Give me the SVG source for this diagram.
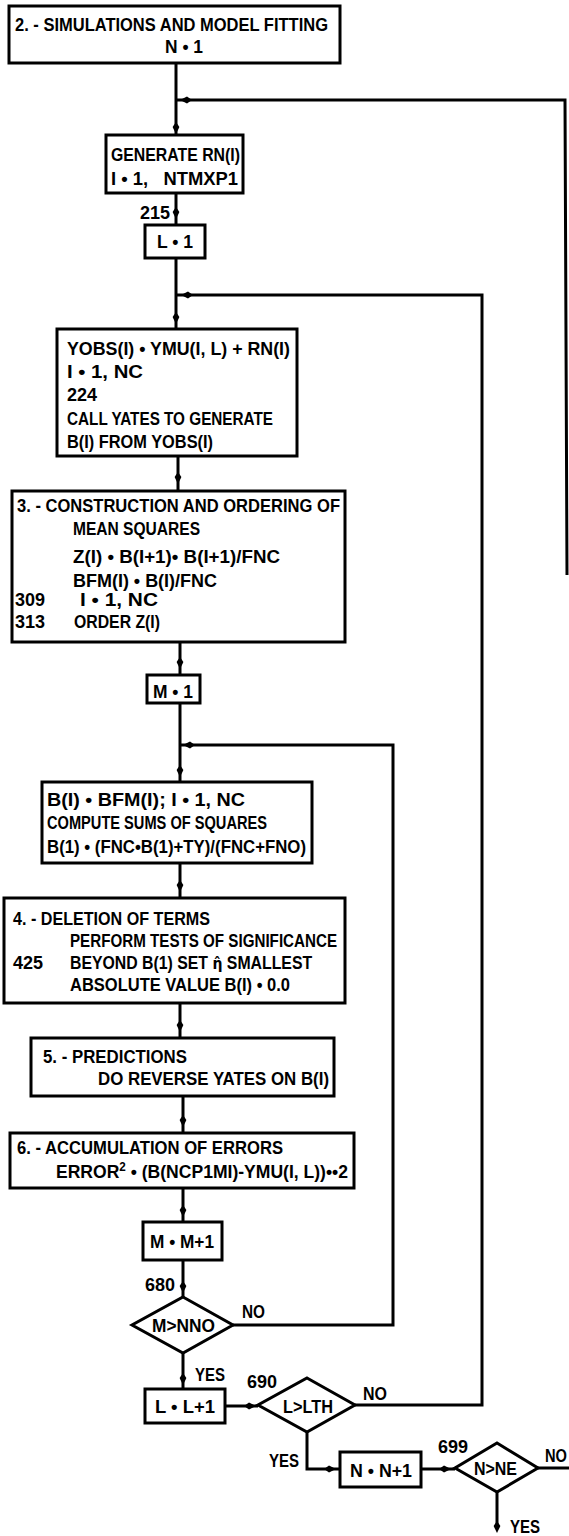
<svg xmlns="http://www.w3.org/2000/svg" width="569" height="1536" viewBox="0 0 569 1536">
<style>
.t{font-family:'Liberation Sans Narrow','Liberation Sans',Arial,sans-serif;font-weight:bold;font-size:18px;fill:#000}
.g{font-family:'DejaVu Sans',sans-serif;font-size:16px}
.b{fill:#fff;stroke:#000;stroke-width:3}
.c{fill:none;stroke:#000;stroke-width:3}
</style>
<defs>
<path id="arr" d="M-6,0 L-1,-3.4 L6,0 L-1,3.4 Z" fill="#000"/>
</defs>
<rect width="569" height="1536" fill="#fff"/>
<g id="connectors">
<path class="c" d="M176 63 V135"/>
<path class="c" d="M176 100 H565 L567 575"/>
<path class="c" d="M176 193 V225"/>
<path class="c" d="M176 258 V329"/>
<path class="c" d="M176 295 H482 V1405 H355"/>
<path class="c" d="M178 456 V491"/>
<path class="c" d="M180 642 V675"/>
<path class="c" d="M180 703 V782"/>
<path class="c" d="M180 745 H393 V1325 H233"/>
<path class="c" d="M180 863 V898"/>
<path class="c" d="M180 1003 V1038"/>
<path class="c" d="M183 1096 V1133"/>
<path class="c" d="M183 1188 V1222"/>
<path class="c" d="M183 1260 V1297"/>
<path class="c" d="M183 1353 V1389"/>
<path class="c" d="M225 1406 H258"/>
<path class="c" d="M307 1432 V1469 H340"/>
<path class="c" d="M421 1469 H455"/>
<path class="c" d="M538 1468 H569"/>
<path class="c" d="M497 1492 V1526"/>
<use href="#arr" transform="translate(176,128) rotate(90)"/>
<use href="#arr" transform="translate(186,100) rotate(180)"/>
<use href="#arr" transform="translate(176,213) rotate(90)"/>
<use href="#arr" transform="translate(187,295) rotate(180)"/>
<use href="#arr" transform="translate(176,318) rotate(90)"/>
<use href="#arr" transform="translate(178,478) rotate(90)"/>
<use href="#arr" transform="translate(180,663) rotate(90)"/>
<use href="#arr" transform="translate(189,745) rotate(180)"/>
<use href="#arr" transform="translate(180,771) rotate(90)"/>
<use href="#arr" transform="translate(180,886) rotate(90)"/>
<use href="#arr" transform="translate(180,1026) rotate(90)"/>
<use href="#arr" transform="translate(183,1121) rotate(90)"/>
<use href="#arr" transform="translate(183,1211) rotate(90)"/>
<use href="#arr" transform="translate(183,1287) rotate(90)"/>
<use href="#arr" transform="translate(183,1379) rotate(90)"/>
<use href="#arr" transform="translate(250,1406)"/>
<use href="#arr" transform="translate(330,1469)"/>
<use href="#arr" transform="translate(445,1469)"/>
<use href="#arr" transform="translate(497,1527) rotate(90)"/>
<text class="t" x="170" y="219" text-anchor="end">215</text>
<text class="t" x="145" y="1291">680</text>
<text class="t" x="242" y="1318" textLength="23" lengthAdjust="spacingAndGlyphs">NO</text>
<text class="t" x="195" y="1381" textLength="30" lengthAdjust="spacingAndGlyphs">YES</text>
<text class="t" x="247" y="1388">690</text>
<text class="t" x="363" y="1400" textLength="24" lengthAdjust="spacingAndGlyphs">NO</text>
<text class="t" x="269" y="1467" textLength="30" lengthAdjust="spacingAndGlyphs">YES</text>
<text class="t" x="438" y="1453">699</text>
<text class="t" x="545" y="1462" textLength="22" lengthAdjust="spacingAndGlyphs">NO</text>
<text class="t" x="510" y="1533" textLength="30" lengthAdjust="spacingAndGlyphs">YES</text>
</g>
<g id="n1">
<rect class="b" x="9" y="6" width="331" height="57"/>
<text class="t" x="15" y="31" textLength="313" lengthAdjust="spacingAndGlyphs">2. - SIMULATIONS AND MODEL FITTING</text>
<text class="t" x="165" y="53" textLength="38" lengthAdjust="spacingAndGlyphs">N • 1</text>
</g>
<g id="n2">
<rect class="b" x="106" y="135" width="137" height="58"/>
<text class="t" x="111" y="161" textLength="129" lengthAdjust="spacingAndGlyphs">GENERATE RN(I)</text>
<text class="t" x="111" y="185" textLength="127" lengthAdjust="spacingAndGlyphs" xml:space="preserve">I • 1,   NTMXP1</text>
</g>
<g id="n3">
<rect class="b" x="145" y="225" width="60" height="33"/>
<text class="t" x="157" y="248" textLength="36" lengthAdjust="spacingAndGlyphs">L • 1</text>
</g>
<g id="n4">
<rect class="b" x="57" y="329" width="240" height="127"/>
<text class="t" x="67" y="355" textLength="223" lengthAdjust="spacingAndGlyphs">YOBS(I) • YMU(I, L) + RN(I)</text>
<text class="t" x="67" y="378" textLength="76" lengthAdjust="spacingAndGlyphs">I • 1, NC</text>
<text class="t" x="67" y="401">224</text>
<text class="t" x="67" y="425" textLength="206" lengthAdjust="spacingAndGlyphs">CALL YATES TO GENERATE</text>
<text class="t" x="67" y="448" textLength="146" lengthAdjust="spacingAndGlyphs">B(I) FROM YOBS(I)</text>
</g>
<g id="n5">
<rect class="b" x="12" y="491" width="333" height="151"/>
<text class="t" x="17" y="512" textLength="323" lengthAdjust="spacingAndGlyphs">3. - CONSTRUCTION AND ORDERING OF</text>
<text class="t" x="73" y="535" textLength="127" lengthAdjust="spacingAndGlyphs">MEAN SQUARES</text>
<text class="t" x="73" y="563" textLength="207" lengthAdjust="spacingAndGlyphs">Z(I) • B(I+1)• B(I+1)/FNC</text>
<text class="t" x="73" y="587" textLength="144" lengthAdjust="spacingAndGlyphs">BFM(I) • B(I)/FNC</text>
<text class="t" x="15" y="606">309</text>
<text class="t" x="80" y="606" textLength="78" lengthAdjust="spacingAndGlyphs">I • 1, NC</text>
<text class="t" x="15" y="628">313</text>
<text class="t" x="74" y="628" textLength="86" lengthAdjust="spacingAndGlyphs">ORDER Z(I)</text>
</g>
<g id="n6">
<rect class="b" x="147" y="675" width="53" height="28"/>
<text class="t" x="153" y="698" textLength="40" lengthAdjust="spacingAndGlyphs">M • 1</text>
</g>
<g id="n7">
<rect class="b" x="42" y="782" width="270" height="81"/>
<text class="t" x="47" y="806" textLength="198" lengthAdjust="spacingAndGlyphs">B(I) • BFM(I); I • 1, NC</text>
<text class="t" x="47" y="829" textLength="220" lengthAdjust="spacingAndGlyphs">COMPUTE SUMS OF SQUARES</text>
<text class="t" x="47" y="853" textLength="259" lengthAdjust="spacingAndGlyphs">B(1) • (FNC•B(1)+TY)/(FNC+FNO)</text>
</g>
<g id="n8">
<rect class="b" x="4" y="898" width="341" height="105"/>
<text class="t" x="13" y="925" textLength="197" lengthAdjust="spacingAndGlyphs">4. - DELETION OF TERMS</text>
<text class="t" x="70" y="947" textLength="267" lengthAdjust="spacingAndGlyphs">PERFORM TESTS OF SIGNIFICANCE</text>
<text class="t" x="13" y="969">425</text>
<text class="t" transform="translate(70,969) scale(0.88,1)" x="0" y="0">BEYOND B(1) SET <tspan class="g">η̂</tspan> SMALLEST</text>
<text class="t" x="70" y="991" textLength="220" lengthAdjust="spacingAndGlyphs">ABSOLUTE VALUE B(I) • 0.0</text>
</g>
<g id="n9">
<rect class="b" x="31" y="1038" width="303" height="58"/>
<text class="t" x="43" y="1063" textLength="144" lengthAdjust="spacingAndGlyphs">5. - PREDICTIONS</text>
<text class="t" x="98" y="1085" textLength="231" lengthAdjust="spacingAndGlyphs">DO REVERSE YATES ON B(I)</text>
</g>
<g id="n10">
<rect class="b" x="10" y="1133" width="344" height="55"/>
<text class="t" x="17" y="1154" textLength="266" lengthAdjust="spacingAndGlyphs">6. - ACCUMULATION OF ERRORS</text>
<text class="t" x="56" y="1178" textLength="292" lengthAdjust="spacingAndGlyphs">ERROR<tspan dy="-7" font-size="12">2</tspan><tspan dy="7"> • (B(NCP1MI)-YMU(I, L))••2</tspan></text>
</g>
<g id="n11">
<rect class="b" x="143" y="1222" width="79" height="38"/>
<text class="t" x="150" y="1248" textLength="64" lengthAdjust="spacingAndGlyphs">M • M+1</text>
</g>
<g id="n12">
<polygon class="b" points="183,1297 233,1325 183,1353 132,1325"/>
<text class="t" x="152" y="1332" textLength="63" lengthAdjust="spacingAndGlyphs">M&gt;NNO</text>
</g>
<g id="n13">
<rect class="b" x="145" y="1389" width="80" height="34"/>
<text class="t" x="155" y="1413" textLength="60" lengthAdjust="spacingAndGlyphs">L • L+1</text>
</g>
<g id="n14">
<polygon class="b" points="307,1378 355,1405 307,1432 258,1405"/>
<text class="t" x="283" y="1413" textLength="50" lengthAdjust="spacingAndGlyphs">L&gt;LTH</text>
</g>
<g id="n15">
<rect class="b" x="340" y="1452" width="81" height="35"/>
<text class="t" x="350" y="1477" textLength="62" lengthAdjust="spacingAndGlyphs">N • N+1</text>
</g>
<g id="n16">
<polygon class="b" points="497,1443 538,1468 497,1492 455,1468"/>
<text class="t" x="474" y="1475" textLength="43" lengthAdjust="spacingAndGlyphs">N&gt;NE</text>
</g>
</svg>
